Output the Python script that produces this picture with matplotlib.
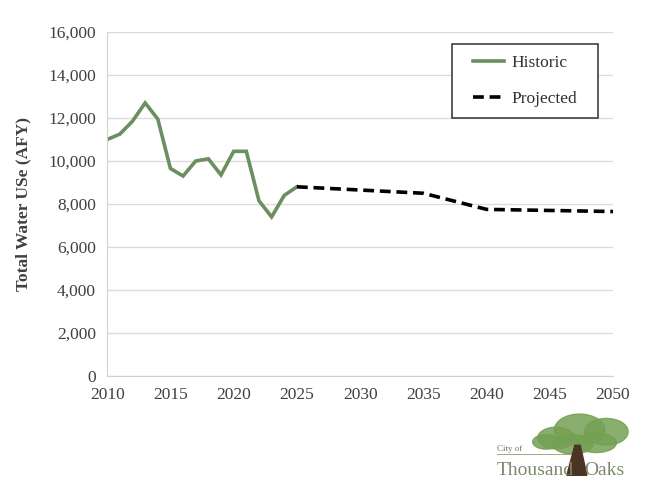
import matplotlib
matplotlib.use('Agg')
import matplotlib.pyplot as plt
from matplotlib.patches import Ellipse, Polygon, Rectangle
from matplotlib.ticker import FuncFormatter

# Historic water use (AFY)
hist_years = [2010, 2011, 2012, 2013, 2014, 2015, 2016, 2017, 2018, 2019,
              2020, 2021, 2022, 2023, 2024, 2025]
hist_use = [11000, 11250, 11850, 12700, 11950, 9650, 9300, 10000, 10100, 9350,
            10450, 10450, 8150, 7400, 8400, 8800]

# Projected water use (AFY)
proj_years = [2025, 2030, 2035, 2040, 2045, 2050]
proj_use = [8800, 8650, 8500, 7750, 7700, 7650]

x_ticks = list(range(2010, 2051, 5))
y_ticks = list(range(0, 16001, 2000))

plt.rcParams['font.family'] = ['Liberation Serif', 'DejaVu Serif']

fig = plt.figure(figsize=(6.7, 4.84), dpi=100)
ax = fig.add_axes([0.16, 0.223, 0.755, 0.711])

ax.plot(hist_years, hist_use, color='#6b8f5e', lw=2.6, label='Historic',
        solid_joinstyle='miter')
ax.plot(proj_years, proj_use, color='black', lw=2.6, ls=(0, (3, 1.6)),
        label='Projected')

ax.set_xlim(2010, 2050)
ax.set_ylim(0, 16000)
ax.set_xticks(x_ticks)
ax.set_yticks(y_ticks)
ax.yaxis.set_major_formatter(FuncFormatter(lambda v, p: f'{int(v):,}'))
ax.tick_params(length=0, labelsize=12.5, colors='#404040', pad=8)
ax.grid(axis='y', color='#dcdcdc', lw=1)
ax.set_axisbelow(True)
for s in ['top', 'right']:
    ax.spines[s].set_visible(False)
for s in ['left', 'bottom']:
    ax.spines[s].set_color('#d0d0d0')
ax.set_ylabel('Total Water USe (AFY)', fontsize=12.5, fontweight='bold',
              color='#404040', labelpad=12)

# legend box drawn separately so the padding can be wider than tall
ax.add_patch(Rectangle((0.682, 0.750), 0.288, 0.215, transform=ax.transAxes,
                       fill=True, facecolor='white', edgecolor='#404040',
                       lw=1.2, zorder=4))
leg = ax.legend(loc='center', bbox_to_anchor=(0.826, 0.8576), fontsize=12.5,
                frameon=False, handlelength=1.8, handletextpad=0.4,
                labelspacing=1.1, borderpad=0.0)
leg.set_zorder(5)
for t in leg.get_texts():
    t.set_color('#303030')

# logo: City of Thousand Oaks
canopy = [(0.83, 0.095, 0.055, 0.045), (0.865, 0.112, 0.075, 0.065),
          (0.905, 0.108, 0.065, 0.055), (0.855, 0.082, 0.06, 0.04),
          (0.89, 0.085, 0.06, 0.04), (0.815, 0.087, 0.04, 0.03)]
for cx, cy, w, h in canopy:
    fig.patches.append(Ellipse((cx, cy), w, h, transform=fig.transFigure,
                               color='#74a054', alpha=0.85))
trunk = Polygon([[0.846, 0.018], [0.876, 0.018], [0.866, 0.08], [0.858, 0.08]],
                closed=True, transform=fig.transFigure, color='#4a3424')
fig.patches.append(trunk)
fig.text(0.742, 0.068, 'City of', fontsize=6.5, color='#6b7a5a')
fig.lines.append(plt.Line2D([0.742, 0.85], [0.062, 0.062],
                            transform=fig.transFigure, color='#8a9a7a', lw=0.6))
fig.text(0.742, 0.018, 'Thousand', fontsize=14, color='#7d8a6c')
fig.text(0.872, 0.018, 'Oaks', fontsize=14, color='#7d8a6c')

fig.savefig('out.png', dpi=100, facecolor='white')
